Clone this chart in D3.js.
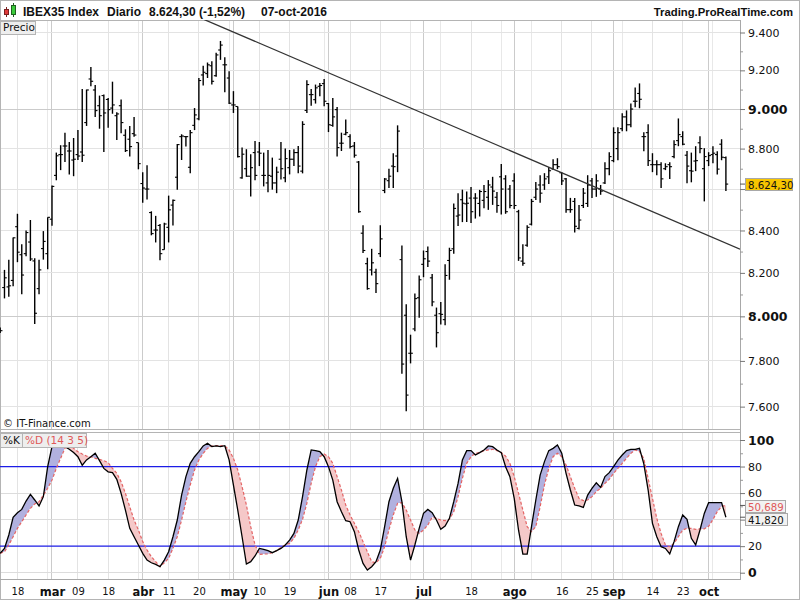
<!DOCTYPE html>
<html><head><meta charset="utf-8">
<script src="https://cdn.jsdelivr.net/npm/d3@7"></script>
<style>body{margin:0;background:#fff}svg{display:block;font-family:"DejaVu Sans",Verdana,sans-serif}</style>
</head><body><svg id="c" width="800" height="600"></svg>
<script>
// ---------- DATA ----------
const firstDay = "2016-02-12", lastDay = "2016-10-07";
const holidays = ["2016-03-25","2016-03-28"];
const open = [7940,8132,8135,8165,8418,8285,8290,8345,8256,8127,
8314,8290,8454,8667,8770,8813,8788,8743,8770,8783,
8931,9155,9098,9017,9069,9049,9005,8966,9017,8867,
8847,8875,8830,8627,8600,8486,8402,8424,8309,8415,
8522,8658,8860,8860,8707,8917,8950,9176,9183,9224,
9172,9307,9229,9160,9021,9013,8655,8700,8663,8780,
8783,8667,8630,8663,8630,8747,8655,8705,8747,8780,
8688,8993,9074,9048,9117,9131,9028,8917,8997,8827,
8872,8860,8813,8733,8387,8243,8214,8203,8290,8593,
8641,8713,8763,8262,8005,7834,7943,8085,8240,8300,
8177,8005,8012,7985,8258,8313,8469,8548,8528,8556,
8556,8530,8545,8560,8610,8560,8660,8650,8600,8640,
8490,8255,8330,8430,8560,8620,8620,8660,8700,8720,
8680,8650,8500,8540,8410,8520,8530,8640,8600,8600,
8630,8700,8740,8800,8900,8960,8920,9040,9080,8860,
8880,8720,8720,8720,8700,8720,8760,8840,8860,8767,
8690,8738,8829,8700,8740,8770,8770,8822,8755];
const high = [7950,8214,8262,8367,8480,8335,8400,8450,8268,8262,
8397,8463,8617,8780,8817,8880,8833,8853,8893,9103,
9100,9217,9124,9069,9075,9057,9141,8983,9049,8897,
8914,8960,8830,8683,8717,8492,8470,8431,8437,8568,
8549,8823,8872,8863,8893,9005,9160,9224,9241,9248,
9293,9355,9269,9195,9092,9013,8805,8797,8772,8838,
8833,8780,8793,8755,8710,8833,8800,8793,8797,8813,
8938,9148,9103,9126,9134,9155,9031,9057,9010,8880,
8947,8872,8833,8738,8425,8271,8313,8219,8425,8654,
8700,8777,8917,8329,8055,7917,8104,8188,8305,8324,
8195,8040,8066,8240,8318,8530,8580,8597,8588,8610,
8580,8596,8620,8644,8660,8586,8723,8668,8620,8678,
8499,8334,8425,8552,8634,8668,8678,8708,8747,8752,
8683,8654,8557,8557,8523,8605,8668,8654,8673,8620,
8732,8782,8907,8907,8978,8993,9029,9111,9132,8882,
8922,8777,8742,8732,8727,8732,8842,8952,8887,8788,
8780,8812,8862,8802,8782,8812,8787,8847,8760];
const low = [7925,8082,8089,8138,8250,8101,8278,8256,7965,8101,
8262,8217,8423,8643,8693,8733,8672,8663,8743,8733,
8914,9117,8960,8900,8783,8905,8976,8843,8877,8783,
8760,8860,8697,8533,8549,8377,8343,8259,8309,8343,
8424,8597,8743,8810,8677,8893,8943,9121,9160,9126,
9166,9255,9086,9026,8980,8755,8650,8660,8564,8643,
8713,8613,8584,8597,8580,8647,8633,8672,8713,8677,
8677,8980,9017,9028,9066,9014,8883,8910,8760,8788,
8867,8800,8755,8485,8293,8122,8188,8107,8274,8580,
8605,8605,8683,7743,7580,7789,7933,7994,8180,8227,
8046,7860,7963,7960,8168,8290,8421,8440,8440,8436,
8457,8467,8507,8499,8523,8485,8476,8480,8507,8503,
8256,8233,8323,8424,8547,8533,8596,8625,8693,8698,
8620,8485,8485,8390,8405,8508,8513,8557,8562,8572,
8625,8668,8732,8742,8887,8887,8907,9009,9004,8787,
8713,8683,8668,8605,8693,8649,8752,8812,8817,8628,
8633,8688,8777,8540,8713,8727,8671,8742,8590];
const close = [7935,8177,8140,8365,8297,8190,8390,8265,8014,8214,
8348,8463,8613,8764,8770,8813,8788,8747,8763,8767,
9098,9143,8992,8966,8980,8997,9021,8975,8931,8790,
8810,8868,8725,8605,8600,8385,8402,8290,8431,8499,
8545,8820,8863,8860,8880,8970,9147,9190,9229,9143,
9281,9333,9229,9030,9021,8760,8772,8663,8705,8667,
8777,8667,8667,8630,8683,8700,8750,8747,8780,8713,
8922,9126,9074,9109,9121,9040,8920,8960,8805,8827,
8880,8810,8767,8490,8305,8127,8247,8150,8360,8649,
8663,8710,8888,7786,7650,7834,8081,8168,8266,8255,
8066,7926,8009,8188,8305,8506,8474,8531,8531,8490,
8556,8588,8588,8620,8590,8520,8600,8490,8520,8520,
8270,8245,8415,8540,8600,8580,8650,8690,8720,8710,
8640,8500,8500,8420,8450,8580,8620,8600,8640,8590,
8700,8760,8880,8880,8960,8920,9000,9040,9050,8860,
8740,8720,8720,8650,8710,8710,8820,8870,8822,8713,
8688,8740,8800,8760,8765,8777,8698,8757,8624.3];
const stochK = [14.6,18.3,28.4,41.7,45.2,47.7,54,59,54.8,50.3,
57.3,79.9,95,99,99,95,93,90.5,87.4,81,
85,87.4,90,84.4,78.6,76,75.4,70.4,59.8,47.2,
33.4,27.1,20.9,14.6,9.5,7.5,6.3,4.5,9.5,15.8,
27.1,39.7,58.5,72.4,82.4,87.4,91.2,95.5,97.5,95,
95.5,95,95.7,85,66,47.2,27.1,6.5,8.3,12.6,
18.3,17.6,16.6,15.1,16.6,18.3,20.9,24.6,29.6,39.7,
57.3,77.4,92.5,92,91.2,87.4,79.9,69.8,53.5,46,
39.2,38.4,30.9,17.1,7,2,4.5,8.3,17.1,34.7,
53.5,63.6,71.1,53.5,27.1,9.5,20.9,33.4,44.7,47.7,
45.2,39.7,32.7,35.2,41,53.5,67.3,84.9,92,92,
88.7,90.5,92.5,95.5,95,92.5,90.5,79.9,72.4,56,
32,14,14,34.7,54.8,73.6,83.7,92,93.7,96.2,
90,74.9,62.3,51,50.3,49.2,58.5,63.6,67.8,64.3,
72.4,75.4,79.9,84.9,88.7,92,93,93,93.7,82,
62.3,37.2,27.1,19.6,18.3,14.1,23.4,34.7,43.5,40.2,
25.9,20.9,32.2,44.7,52.8,52.8,52.8,52.8,41.82];
const stochD = [14.6,15.8,20.9,27.1,33.4,38.4,43.5,48.5,51.8,53.5,
58.5,63.6,69.8,78.6,86.2,93.7,96.2,93.7,91.2,89.4,
87.9,87.4,86.2,85.4,84.4,82.9,78.6,74.9,68.6,59.8,
49.7,39.7,32.2,23.4,17.1,12.1,8.3,4.5,7.5,10.8,
18.3,27.1,39.7,53.5,66.1,77.4,84.9,89.9,93.7,95.5,
95.7,95.7,95.5,92.5,86.2,77.4,64.8,51,34.7,20.9,
13.8,14.1,14.1,15.1,16.6,19.1,20.9,22.1,25.9,32.2,
40.2,52.3,67.3,79.9,87.4,89.4,87.4,82.4,72.4,62.3,
51,43.5,37.2,30.9,23.4,15.8,8.3,7.5,10.8,19.6,
32.2,43.5,52.3,52.8,47.2,39.7,32.2,29.6,32.2,35.9,
41.7,41,39.7,39.2,40.2,46,57.3,71.1,82.4,87.4,
90,90.5,92,92.5,93,92,90.5,87.9,82.4,72.4,
59.8,47.2,34.7,30.9,34.7,49.7,66.1,78.6,87.4,90,
87.4,81.2,72.4,63.6,56,54.3,54.8,57.3,61.1,63.6,
67.3,70.4,74.9,78.6,82.4,86.2,89.9,92.5,91.2,86,
71,56,41,29.6,20.9,19.6,22.1,27.1,32.2,33.4,
33.4,32.7,33,33,35,40,46,50,50.689];
const trendDates = ["2016-05-10","2016-09-23"];
const trendPrices = [9343, 8428];
const tickDates = ["2016-02-18","2016-03-01","2016-03-09","2016-03-18","2016-04-01","2016-04-11","2016-04-20","2016-05-02","2016-05-10","2016-05-19","2016-06-01","2016-06-08","2016-06-17","2016-07-01","2016-07-18","2016-08-01","2016-08-16","2016-08-25","2016-09-01","2016-09-14","2016-09-23","2016-10-03"];
const tickLabels = ["18","mar","09","18","abr","11","20","may","10","19","jun","08","17","jul","18","ago","16","25","sep","14","23","oct"];
const monthLabels = ["mar","abr","may","jun","jul","ago","sep","oct"];
const extraGridDates = ["2016-02-29","2016-03-31","2016-04-29","2016-05-31","2016-06-28","2016-07-07","2016-07-27","2016-08-05","2016-09-05","2016-10-04"];
const priceTicks = [7600,7800,8000,8200,8400,8600,8800,9000,9200,9400];
const priceMinor = [7700,7900,8100,8300,8500,8700,8900,9100,9300];
const priceBold = [8000,9000];
const stochTicks = [0,20,40,60,80,100];
const stochMinor = [10,30,50,70,90];
const stochLevels = [20,80];
const stochGrid = [0,40,60,100];
const instrument = "IBEX35 Index", period = "Diario", dateText = "07-oct-2016";

// ---------- SETUP ----------
const svg = d3.select("#c");
const parse = d3.utcParse("%Y-%m-%d"), fmtD = d3.utcFormat("%Y-%m-%d");
const dates = d3.utcDay.range(parse(firstDay), d3.utcDay.offset(parse(lastDay),1))
  .filter(d => d.getUTCDay() % 6 !== 0).map(fmtD).filter(s => !holidays.includes(s));
const N = dates.length;
const loc = d3.formatLocale({decimal:",", thousands:".", grouping:[3], currency:["","€"], minus:"-"});
const fmtP = loc.format(",.0f"), fmtLast = loc.format(",.2f"), fmtPct = loc.format(".2f"), fmtS = loc.format(".3f");

const L = 0, R = 740, PT = 20, PB = 429, ST = 432, SB = 579;
const x = d3.scalePoint().domain(dates).range([0.16, 725.9]);
const yP = d3.scaleLog().domain([7504, 9467]).range([PB, PT]);
const yS = d3.scaleLinear().domain([0, 100]).range([572.7, 440]);
const last = N-1;

const defs = svg.append("defs");
defs.append("clipPath").attr("id","cpP").append("rect").attr("x",L).attr("y",PT).attr("width",R-L).attr("height",PB-PT);
defs.append("clipPath").attr("id","cpS").append("rect").attr("x",L).attr("y",ST).attr("width",R-L).attr("height",SB-ST);

// frame
svg.append("rect").attr("x",0.5).attr("y",0.5).attr("width",799).attr("height",599).attr("fill","#fff").attr("stroke","#b4b4b4");

// ---------- GRID ----------
const grid = svg.append("g").attr("shape-rendering","crispEdges");
function vgrid(d, col){
  grid.append("line").attr("x1",x(d)).attr("x2",x(d)).attr("y1",PT).attr("y2",PB).attr("stroke",col);
  grid.append("line").attr("x1",x(d)).attr("x2",x(d)).attr("y1",ST).attr("y2",SB).attr("stroke",col);
}
extraGridDates.forEach(d => vgrid(d, "#e8e8e8"));
tickDates.forEach((d,i) => vgrid(d, monthLabels.includes(tickLabels[i]) ? "#cbcbcb" : "#e3e3e3"));
priceTicks.forEach(p => grid.append("line").attr("x1",L).attr("x2",R).attr("y1",yP(p)).attr("y2",yP(p))
  .attr("stroke", priceBold.includes(p) ? "#cbcbcb" : "#e3e3e3"));
stochGrid.forEach(v => grid.append("line").attr("x1",L).attr("x2",R).attr("y1",yS(v)).attr("y2",yS(v)).attr("stroke","#dcdcdc"));

// panel borders
const bd = svg.append("g").attr("shape-rendering","crispEdges").attr("stroke","#b4b4b4").attr("fill","none");
bd.append("rect").attr("x",0.5).attr("y",PT+0.5).attr("width",R-0.5).attr("height",PB-PT);
bd.append("rect").attr("x",0.5).attr("y",ST+0.5).attr("width",R-0.5).attr("height",SB-ST);

// ---------- PRICE BARS ----------
const gP = svg.append("g").attr("clip-path","url(#cpP)");
const idx = d3.range(N);
gP.selectAll("line.hl").data(idx).join("line")
  .attr("x1",i=>x(dates[i])).attr("x2",i=>x(dates[i]))
  .attr("y1",i=>yP(high[i])).attr("y2",i=>yP(low[i]))
  .attr("stroke","#000").attr("stroke-width",1.4);
gP.selectAll("line.o").data(idx).join("line")
  .attr("x1",i=>x(dates[i])-2.3).attr("x2",i=>x(dates[i]))
  .attr("y1",i=>yP(open[i])).attr("y2",i=>yP(open[i]))
  .attr("stroke","#000").attr("stroke-width",1.1);
gP.selectAll("line.c").data(idx).join("line")
  .attr("x1",i=>x(dates[i])).attr("x2",i=>x(dates[i])+2.3)
  .attr("y1",i=>yP(close[i])).attr("y2",i=>yP(close[i]))
  .attr("stroke","#000").attr("stroke-width",1.1);

// trend line (extended across the panel)
const tx = trendDates.map(d=>x(d)), ty = trendPrices.map(p=>yP(p));
const slope = (ty[1]-ty[0])/(tx[1]-tx[0]);
const xa = 150, xb = R;
gP.append("line").attr("x1",xa).attr("y1",ty[0]+(xa-tx[0])*slope)
  .attr("x2",xb).attr("y2",ty[0]+(xb-tx[0])*slope)
  .attr("stroke","#333").attr("stroke-width",1.3);

// ---------- STOCHASTIC ----------
const gS = svg.append("g").attr("clip-path","url(#cpS)");
const xi = i => x(dates[i]);
const areaKD = d3.area().x(xi).y0(i=>yS(stochD[i])).y1(i=>yS(stochK[i]));
defs.append("clipPath").attr("id","cpAbove").append("path")
  .attr("d", d3.area().x(xi).y0(ST).y1(i=>yS(stochD[i]))(idx));
defs.append("clipPath").attr("id","cpBelow").append("path")
  .attr("d", d3.area().x(xi).y0(SB).y1(i=>yS(stochD[i]))(idx));
gS.append("g").attr("clip-path","url(#cpAbove)").append("path").attr("d",areaKD(idx)).attr("fill","#b1b1df");
gS.append("g").attr("clip-path","url(#cpBelow)").append("path").attr("d",areaKD(idx)).attr("fill","#f5c8c8");
stochLevels.forEach(v => gS.append("line").attr("x1",L).attr("x2",R).attr("y1",yS(v)).attr("y2",yS(v))
  .attr("stroke","#1c1ce6").attr("stroke-width",1.2));
gS.append("path").attr("d", d3.line().x(xi).y(i=>yS(stochD[i]))(idx))
  .attr("fill","none").attr("stroke","#e46464").attr("stroke-width",1.2).attr("stroke-dasharray","3,2");
gS.append("path").attr("d", d3.line().x(xi).y(i=>yS(stochK[i]))(idx))
  .attr("fill","none").attr("stroke","#000").attr("stroke-width",1.3);

// ---------- AXES ----------
svg.append("line").attr("x1",R+0.5).attr("x2",R+0.5).attr("y1",PT).attr("y2",SB+1).attr("stroke","#a8a8a8").attr("shape-rendering","crispEdges");
svg.append("line").attr("x1",0).attr("x2",R).attr("y1",SB+0.5).attr("y2",SB+0.5).attr("stroke","#a8a8a8").attr("shape-rendering","crispEdges");

// labels hidden behind the value boxes (as in the reference) are not drawn
const boxYs = [yP(close[last]), yS(stochD[last]), yS(stochK[last])];
function rightAxis(scale, vals, minor, fmt, bold){
  const g = svg.append("g").attr("transform",`translate(${R},0)`)
    .call(d3.axisRight(scale).tickValues(vals).tickFormat(fmt).tickSize(5).tickPadding(3));
  g.select(".domain").remove();
  g.selectAll(".tick line").attr("stroke","#777");
  g.selectAll(".tick text").attr("fill","#111").attr("font-family","DejaVu Sans, sans-serif")
    .attr("font-size", d => bold.includes(d) ? 12.5 : 11)
    .attr("font-weight", d => bold.includes(d) ? "bold" : "normal")
    .filter(d => boxYs.some(b => Math.abs(scale(d) - b) < 9)).remove();
  const m = svg.append("g").attr("transform",`translate(${R},0)`)
    .call(d3.axisRight(scale).tickValues(minor).tickFormat("").tickSize(3));
  m.select(".domain").remove();
  m.selectAll(".tick line").attr("stroke","#999");
}
rightAxis(yP, priceTicks, priceMinor, fmtP, priceBold);
rightAxis(yS, stochTicks, stochMinor, d=>String(d), [0,100]);

const gx = svg.append("g").attr("transform",`translate(0,${SB})`)
  .call(d3.axisBottom(x).tickValues(tickDates).tickFormat((d,i)=>tickLabels[i]).tickSize(0).tickPadding(9));
gx.select(".domain").remove();
gx.selectAll(".tick text").attr("fill","#111").attr("font-family","DejaVu Sans, sans-serif")
  .attr("font-size",(d,i)=>monthLabels.includes(tickLabels[i]) ? 11.5 : 10)
  .attr("font-weight",(d,i)=>monthLabels.includes(tickLabels[i]) ? "bold" : "normal");

// value boxes on the right axis
function valueBox(yTick, yBox, txt, bg, col, w){
  svg.append("line").attr("x1",R).attr("x2",R+5).attr("y1",yTick).attr("y2",yTick).attr("stroke","#555");
  svg.append("rect").attr("x",R+5.5).attr("y",Math.round(yBox-6)+0.5).attr("width",w).attr("height",12)
    .attr("fill",bg).attr("stroke","#a8a8a8").attr("shape-rendering","crispEdges");
  svg.append("text").attr("x",R+8).attr("y",Math.round(yBox-6)+10.5).attr("font-size",10.2).attr("fill",col).text(txt);
}
valueBox(yP(close[last]), yP(close[last]), fmtLast(close[last]), "#f7c600", "#111", 47);
valueBox(yS(stochD[last]), yS(stochD[last]) + 0.5, fmtS(stochD[last]), "#f2f2f2", "#e05858", 40);
valueBox(yS(stochK[last]), yS(stochK[last]) + 2, fmtS(stochK[last]), "#f2f2f2", "#111", 42);

// ---------- LABELS ----------
function tagBox(x0, y0, w, h, txt, col){
  svg.append("rect").attr("x",x0+0.5).attr("y",y0+0.5).attr("width",w).attr("height",h)
    .attr("fill","#eeeeee").attr("stroke","#b4b4b4").attr("shape-rendering","crispEdges");
  svg.append("text").attr("x",x0+3).attr("y",y0+h-3).attr("font-size",10.5).attr("fill",col).text(txt);
}
tagBox(0, 21, 35, 13, "Precio", "#111");
tagBox(0, 433, 22, 14, "%K", "#111");
tagBox(22, 433, 64, 14, "%D (14 3 5)", "#e05858");
svg.append("text").attr("x",3).attr("y",427).attr("font-size",10).attr("fill","#111").text("© IT-Finance.com");

// header
const pct = (close[last]/close[last-1]-1)*100;
const hdr = svg.append("g").attr("font-family","Liberation Sans, Arial, sans-serif").attr("font-weight","bold").attr("font-size",12).attr("fill","#111");
hdr.append("text").attr("x",23).attr("y",16).text(instrument);
hdr.append("text").attr("x",107).attr("y",16).text(period);
hdr.append("text").attr("x",149).attr("y",16).text(`${fmtLast(close[last])} (${fmtPct(pct)}%)`);
hdr.append("text").attr("x",261).attr("y",16).text(dateText);
hdr.append("text").attr("x",793).attr("y",16).attr("text-anchor","end").attr("font-size",11.3).text("Trading.ProRealTime.com");
// small candle icon
const ic = svg.append("g").attr("shape-rendering","crispEdges");
ic.append("line").attr("x1",6.5).attr("x2",6.5).attr("y1",7).attr("y2",17).attr("stroke","#7a2020");
ic.append("rect").attr("x",4.5).attr("y",9.5).attr("width",4).attr("height",5).attr("fill","#e03a3a").attr("stroke","#7a2020");
ic.append("line").attr("x1",13.5).attr("x2",13.5).attr("y1",3).attr("y2",17).attr("stroke","#206020");
ic.append("rect").attr("x",11.5).attr("y",5.5).attr("width",4).attr("height",9).attr("fill","#3ccc3c").attr("stroke","#206020");
</script></body></html>
